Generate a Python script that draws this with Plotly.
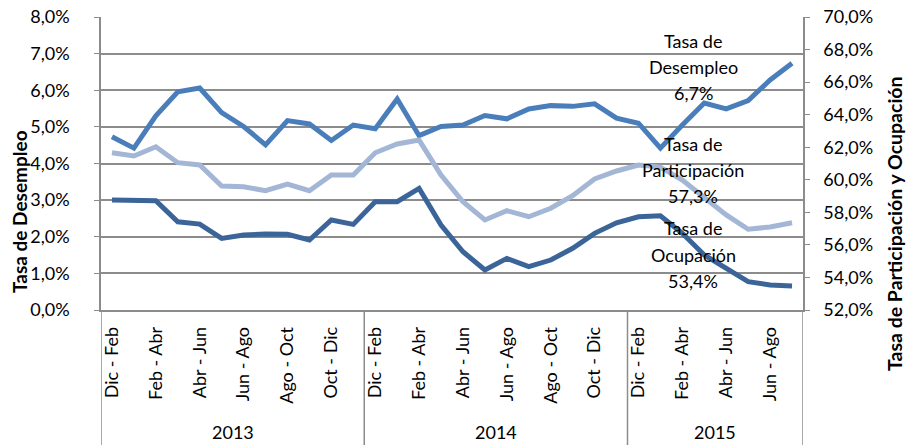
import plotly.graph_objects as go

# ---------------- data ----------------
years = ["2013", "2014", "2015"]
year_counts = [12, 12, 8]
periods = ["Dic - Feb", "Ene - Mar", "Feb - Abr", "Mar - May", "Abr - Jun", "May - Jul",
           "Jun - Ago", "Jul - Sep", "Ago - Oct", "Sep - Nov", "Oct - Dic", "Nov - Ene"]
categories = (periods * 2) + periods[:8]

desempleo = [4.73, 4.42, 5.30, 5.96, 6.06, 5.39, 5.01, 4.51, 5.17, 5.08, 4.63, 5.05,
             4.95, 5.76, 4.76, 5.01, 5.05, 5.31, 5.22, 5.49, 5.58, 5.56, 5.63, 5.24,
             5.10, 4.42, 5.05, 5.65, 5.49, 5.72, 6.28, 6.74]
participacion = [61.66, 61.46, 62.03, 61.05, 60.91, 59.62, 59.57, 59.33, 59.74, 59.33, 60.29, 60.29,
                 61.66, 62.20, 62.44, 60.29, 58.65, 57.53, 58.10, 57.73, 58.25, 59.02, 60.05, 60.54,
                 60.90, 60.78, 59.98, 58.94, 57.84, 56.96, 57.10, 57.36]
ocupacion = [58.76, 58.76, 58.71, 57.42, 57.28, 56.40, 56.61, 56.67, 56.65, 56.30, 57.53, 57.26,
             58.65, 58.65, 59.47, 57.22, 55.58, 54.46, 55.17, 54.66, 55.07, 55.79, 56.71, 57.36,
             57.73, 57.79, 56.71, 55.38, 54.56, 53.74, 53.54, 53.47]

left_ticks = [0, 1, 2, 3, 4, 5, 6, 7, 8]
right_ticks = [52, 54, 56, 58, 60, 62, 64, 66, 68, 70]

# ---------------- style ----------------
FONT = "Lato"
GRID = "#8C8C8C"
C_DES = "#4A7EBB"
C_PAR = "#A4B6D6"
C_OCU = "#3B6599"

W, H = 908, 445
# plot area in screen pixels: x 101..803, y 17..310
ML, MR, MT, MB = 101, 908 - 803, 17, 445 - 310
PH = H - MT - MB
PW = W - ML - MR


def py(ypx):
    return (310 - ypx) / PH


def px(xpx):
    return (xpx - 101) / PW


xs = list(range(len(categories)))

fig = go.Figure()
fig.add_trace(go.Scatter(x=xs, y=[v / 100 for v in desempleo], mode="lines", name="Tasa de Desempleo",
                         line=dict(color=C_DES, width=5), yaxis="y"))
fig.add_trace(go.Scatter(x=xs, y=[v / 100 for v in participacion], mode="lines", name="Tasa de Participación",
                         line=dict(color=C_PAR, width=5), yaxis="y2"))
fig.add_trace(go.Scatter(x=xs, y=[v / 100 for v in ocupacion], mode="lines", name="Tasa de Ocupación",
                         line=dict(color=C_OCU, width=5), yaxis="y2"))

n = len(categories)
tickvals = list(range(0, n, 2))
ticktext = [categories[i] for i in tickvals]

fig.update_layout(
    width=W, height=H,
    margin=dict(l=ML, r=MR, t=MT, b=MB, autoexpand=False),
    paper_bgcolor="white", plot_bgcolor="white",
    separators=",.",
    showlegend=False,
    font=dict(family=FONT, size=18, color="black"),
    xaxis=dict(range=[-0.5, n - 0.5], tickmode="array", tickvals=tickvals, ticktext=ticktext,
               tickangle=-90, showgrid=False, zeroline=False, showline=True, linecolor=GRID,
               linewidth=1.5, ticks="", ticklabelstandoff=8, tickfont=dict(size=18), automargin=False),
    yaxis=dict(range=[0, 0.08], tickvals=[v / 100 for v in left_ticks], tickformat=".1%",
               showgrid=True, gridcolor=GRID, gridwidth=1.5, zeroline=False,
               showline=True, linecolor=GRID, linewidth=1.5, ticks="outside", ticklen=5,
               tickcolor=GRID, ticklabelstandoff=21, ticklabeloverflow="allow",
               tickfont=dict(size=18), automargin=False),
    yaxis2=dict(range=[0.52, 0.70], tickvals=[v / 100 for v in right_ticks], tickformat=".1%",
                overlaying="y", side="right", showgrid=False, zeroline=False,
                showline=True, linecolor=GRID, linewidth=1.5, ticks="outside", ticklen=5,
                tickcolor=GRID, ticklabelstandoff=10, ticklabeloverflow="allow",
                tickfont=dict(size=18), automargin=False),
)

# vertical dividers in the category area
shapes = []
bounds = [-0.5]
for c in year_counts:
    bounds.append(bounds[-1] + c)
for b in bounds:
    shapes.append(dict(type="line", xref="x", yref="paper", x0=b, x1=b, y0=0, y1=py(445),
                       line=dict(color=GRID, width=1.5)))
fig.update_layout(shapes=shapes)

annotations = []
# year labels
for i, yname in enumerate(years):
    annotations.append(dict(text=yname, xref="x", yref="paper", x=(bounds[i] + bounds[i + 1]) / 2,
                            y=py(432), showarrow=False, font=dict(size=18), yanchor="middle"))

# axis titles
annotations.append(dict(text="<b>Tasa de Desempleo</b>", xref="paper", yref="paper", x=px(19), y=py(212),
                        textangle=-90, showarrow=False, font=dict(size=19), xanchor="center", yanchor="middle"))
annotations.append(dict(text="<b>Tasa de Participación y Ocupación</b>", xref="paper", yref="paper",
                        x=px(894), y=py(223), textangle=-90, showarrow=False, font=dict(size=19.5),
                        xanchor="center", yanchor="middle"))

# series labels
labels = [
    (["Tasa de", "Desempleo", "6,7%"], [41, 67, 93]),
    (["Tasa de", "Participación", "57,3%"], [144, 170, 196]),
    (["Tasa de", "Ocupación", "53,4%"], [228, 255, 281]),
]
for lines, ys in labels:
    for t, yy in zip(lines, ys):
        annotations.append(dict(text=t, xref="paper", yref="paper", x=px(693), y=py(yy),
                                showarrow=False, font=dict(size=18), xanchor="center", yanchor="middle"))

fig.update_layout(annotations=annotations)

fig.write_html("out.html", config={"displayModeBar": False},
               post_script="document.body.style.margin='0';document.body.style.overflow='hidden';")
